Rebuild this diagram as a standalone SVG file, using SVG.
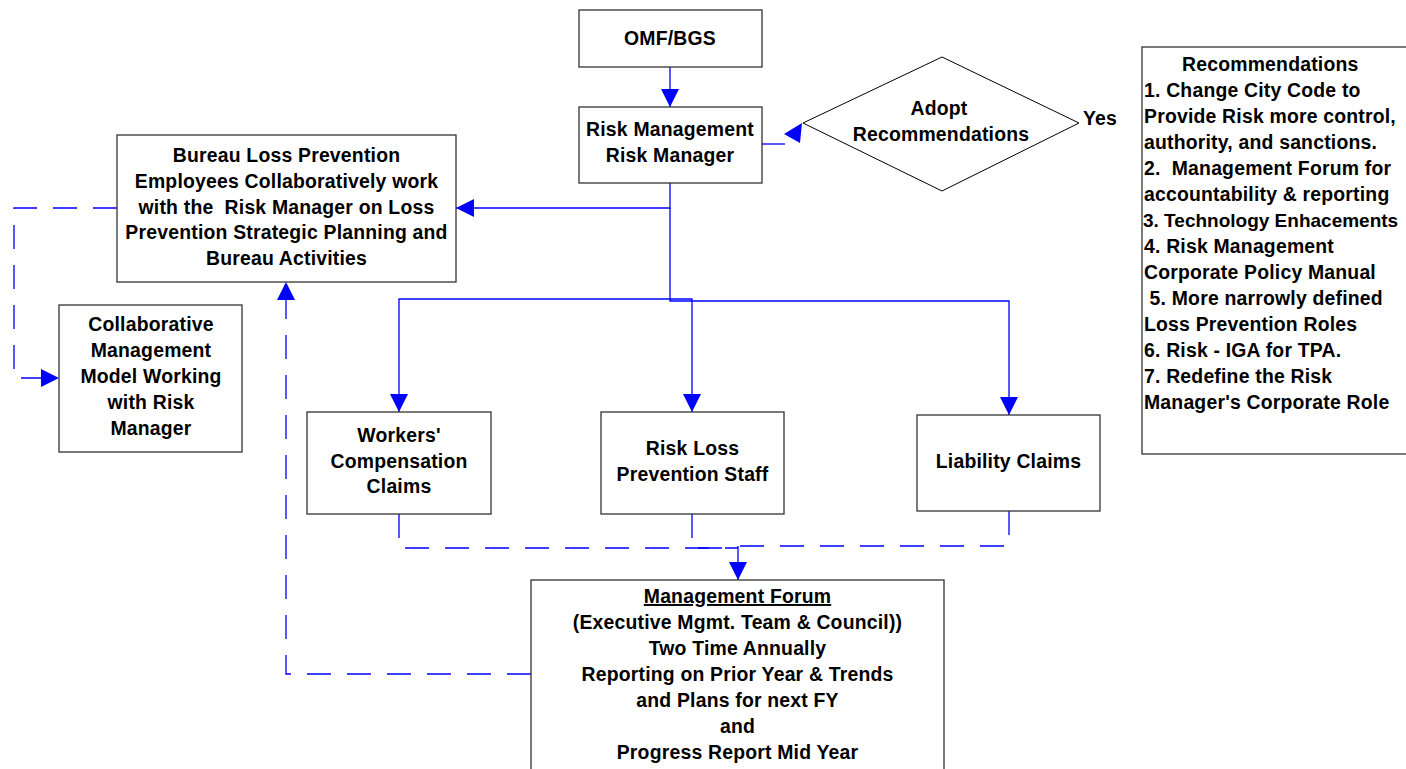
<svg xmlns="http://www.w3.org/2000/svg" width="1406" height="769" viewBox="0 0 1406 769">
<style>
.box{fill:#fff;stroke:#333;stroke-width:1.3}
.t{font-family:"Liberation Sans",Arial,sans-serif;font-weight:bold;font-size:19.4px;letter-spacing:0.2px;fill:#000}
.c{text-anchor:middle}
.con{fill:none;stroke:#0000ff;stroke-width:1.3}
.dash{stroke-dasharray:24 16}
</style>
<defs>
<marker id="ah" viewBox="0 0 18 18" refX="18" refY="9" markerWidth="18" markerHeight="18" markerUnits="userSpaceOnUse" orient="auto">
<path d="M0,0 L18,9 L0,18 z" fill="#0000ff"/>
</marker>
</defs>
<rect x="0" y="0" width="1406" height="769" fill="#fff"/>
<g id="connectors">
<path class="con" d="M670,67 V107" marker-end="url(#ah)"/>
<path class="con" d="M670,183 V208 H456" marker-end="url(#ah)"/>
<path class="con" d="M670,208 V299 H399 V412" marker-end="url(#ah)"/>
<path class="con" d="M670,299 H692 V412" marker-end="url(#ah)"/>
<path class="con" d="M670,299 V301 H1009 V415" marker-end="url(#ah)"/>
<path class="con" d="M762,144 H785"/>
<polygon points="784,134 802,123 800,143" fill="#0000ff"/>
<path class="con dash" d="M117,208 H14 V378 H59" marker-end="url(#ah)"/>
<path class="con dash" d="M531,674 H286 V282" marker-end="url(#ah)"/>
<path class="con dash" d="M399,514 V548 H738"/>
<path class="con dash" d="M692,514 V548 H738"/>
<path class="con dash" d="M1009,511 V546 H738"/>
<path class="con" d="M738,546 V580" marker-end="url(#ah)"/>
</g>
<g id="omf">
<rect class="box" x="579" y="10" width="183" height="57"/>
<text class="t c" x="670" y="45">OMF/BGS</text>
</g>
<g id="risk-management">
<rect class="box" x="579" y="107" width="183" height="76"/>
<text class="t c" x="670" y="136">Risk Management</text>
<text class="t c" x="670" y="162">Risk Manager</text>
</g>
<g id="adopt">
<polygon points="803,123 942,57 1079,123 942,191" fill="#fff" stroke="#000" stroke-width="1"/>
<text class="t c" x="939" y="115">Adopt</text>
<text class="t c" x="941" y="141">Recommendations</text>
<text class="t" x="1083" y="125">Yes</text>
</g>
<g id="bureau">
<rect class="box" x="117" y="135" width="339" height="147"/>
<text class="t c" x="286.5" y="162">Bureau Loss Prevention</text>
<text class="t c" x="286.5" y="188">Employees Collaboratively work</text>
<text class="t c" x="286.5" y="214" xml:space="preserve">with the  Risk Manager on Loss</text>
<text class="t c" x="286.5" y="239">Prevention Strategic Planning and</text>
<text class="t c" x="286.5" y="265">Bureau Activities</text>
</g>
<g id="collaborative">
<rect class="box" x="59" y="305" width="183" height="147"/>
<text class="t c" x="151" y="331">Collaborative</text>
<text class="t c" x="151" y="357">Management</text>
<text class="t c" x="151" y="383">Model Working</text>
<text class="t c" x="151" y="409">with Risk</text>
<text class="t c" x="151" y="435">Manager</text>
</g>
<g id="workers">
<rect class="box" x="307" y="412" width="184" height="102"/>
<text class="t c" x="399" y="442">Workers'</text>
<text class="t c" x="399" y="468">Compensation</text>
<text class="t c" x="399" y="493">Claims</text>
</g>
<g id="risk-loss">
<rect class="box" x="601" y="412" width="183" height="102"/>
<text class="t c" x="692.5" y="455">Risk Loss</text>
<text class="t c" x="692.5" y="481">Prevention Staff</text>
</g>
<g id="liability">
<rect class="box" x="917" y="415" width="183" height="96"/>
<text class="t c" x="1008.5" y="468">Liability Claims</text>
</g>
<g id="forum">
<rect class="box" x="531" y="580" width="413" height="200"/>
<text class="t c" x="737.5" y="603" text-decoration="underline">Management Forum</text>
<text class="t c" x="737.5" y="629">(Executive Mgmt. Team &amp; Council))</text>
<text class="t c" x="737.5" y="655">Two Time Annually</text>
<text class="t c" x="737.5" y="681">Reporting on Prior Year &amp; Trends</text>
<text class="t c" x="737.5" y="707">and Plans for next FY</text>
<text class="t c" x="737.5" y="733">and</text>
<text class="t c" x="737.5" y="759">Progress Report Mid Year</text>
</g>
<g id="recommendations">
<rect class="box" x="1142" y="47" width="300" height="407"/>
<text class="t" x="1182" y="71">Recommendations</text>
<text class="t" x="1144" y="97">1. Change City Code to</text>
<text class="t" x="1144" y="123">Provide Risk more control,</text>
<text class="t" x="1144" y="149">authority, and sanctions.</text>
<text class="t" x="1144" y="175" xml:space="preserve">2.  Management Forum for</text>
<text class="t" x="1144" y="201">accountability &amp; reporting</text>
<text class="t" x="1143" y="227" style="letter-spacing:0;font-size:19px">3. Technology Enhacements</text>
<text class="t" x="1144" y="253">4. Risk Management</text>
<text class="t" x="1144" y="279">Corporate Policy Manual</text>
<text class="t" x="1144" y="305" xml:space="preserve"> 5. More narrowly defined</text>
<text class="t" x="1144" y="331">Loss Prevention Roles</text>
<text class="t" x="1144" y="357">6. Risk - IGA for TPA.</text>
<text class="t" x="1144" y="383">7. Redefine the Risk</text>
<text class="t" x="1144" y="409">Manager's Corporate Role</text>
</g>
</svg>
